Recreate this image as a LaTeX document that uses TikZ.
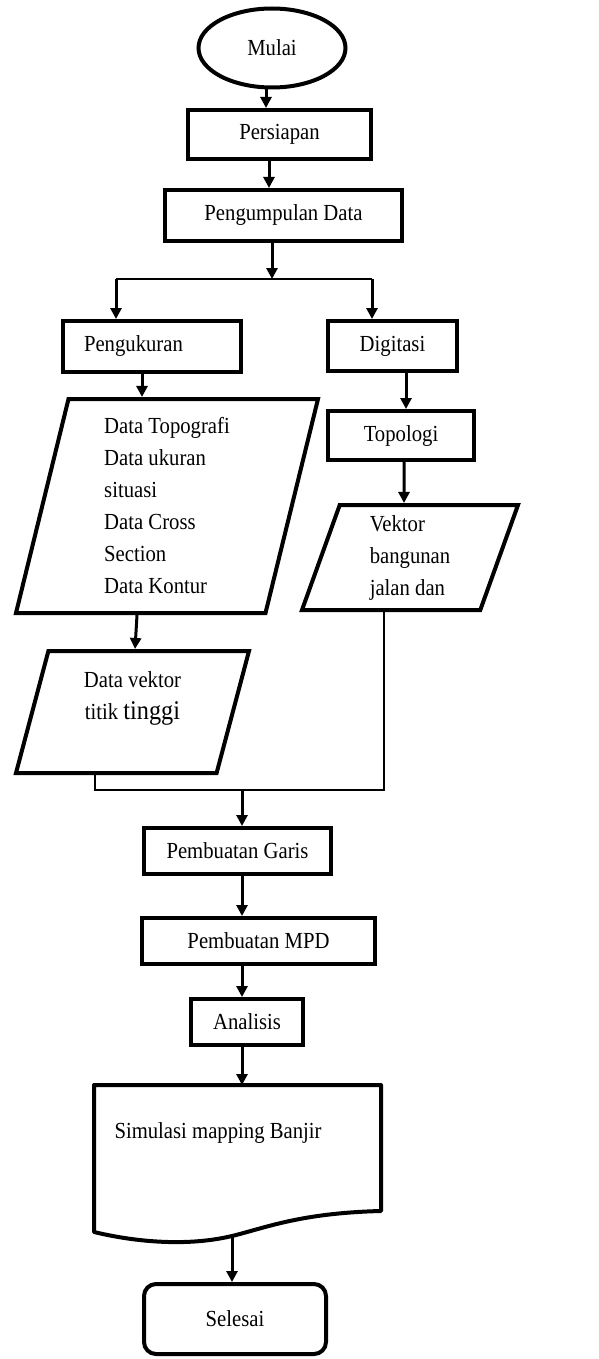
\documentclass[tikz,border=0pt]{standalone}
\usepackage{fontspec}
\setmainfont[FakeStretch=0.9]{Liberation Serif}
\usetikzlibrary{shapes.geometric,arrows.meta}
\tikzset{
	proc/.style={draw,rectangle,line width=4pt},
	para/.style={draw,trapezium,trapezium stretches body,line width=4pt,align=left},
	arr/.style={line width=3pt,-{Triangle[length=11pt,width=11pt]}},
	link/.style={line width=1.2pt}
}
\begin{document}
\begin{tikzpicture}[x=1pt,y=-1pt,font=\fontsize{23}{32}\selectfont]
	\useasboundingbox (0,0) rectangle (599,1359);

	\node [draw,ellipse,line width=4pt,minimum width=147,minimum height=79] (mulai) at (272,48) {Mulai};
	\node [proc,minimum width=183,minimum height=49] (persiapan) at (279.5,134.5) {Persiapan};
	\node [proc,minimum width=237,minimum height=51] (pengumpulan) at (283.5,215.5) {Pengumpulan Data};

	\coordinate (split) at (272,279);	\coordinate (splitL) at (116,279);	\coordinate (splitR) at (372,279);

	\node [proc,minimum width=178,minimum height=51,text width=136,align=left] (pengukuran) at (152,346.5) {Pengukuran};
	\node [proc,minimum width=129,minimum height=50] (digitasi) at (392.5,346) {Digitasi};
	\node [proc,minimum width=146,minimum height=49] (topologi) at (401,435.5) {Topologi};

	\node [para,trapezium left angle=74,trapezium right angle=106,minimum width=302,minimum height=214] (ukurdata) at (167,506)
		{Data Topografi\\Data ukuran\\situasi\\Data Cross\\Section\\Data Kontur};
	\node [para,trapezium left angle=67.6,trapezium right angle=112.4,minimum width=216,minimum height=105] (jalan) at (410,557.5)
		{Vektor\\bangunan\\jalan dan};
	\node [para,trapezium left angle=69.5,trapezium right angle=110.5,minimum width=233,minimum height=122,align=center] (vektordata) at (132.5,712)
		{Data vektor\\titik {\fontsize{27}{35}\selectfont tinggi}\\~};

	\coordinate (merge) at (242,790);

	\node [proc,minimum width=187,minimum height=46] (garis) at (237.5,851) {Pembuatan Garis};
	\node [proc,minimum width=233,minimum height=46] (mpd) at (258.5,941) {Pembuatan MPD};
	\node [proc,minimum width=112,minimum height=46] (analisis) at (247,1022) {Analisis};

	\draw [line width=4pt,line join=round] (94,1085) -- (381,1085) -- (381,1211) .. controls (300,1213) and (265,1228) .. (232,1236)
		.. controls (190,1246) and (140,1243) .. (94,1232) -- cycle;
	\coordinate (doctop) at (242,1085);	\coordinate (docbot) at (232,1236);
	\node (sim) at (218,1133) {Simulasi mapping Banjir};

	\node [draw,rectangle,rounded corners=12pt,line width=4pt,minimum width=182,minimum height=70] (selesai) at (235,1319) {Selesai};

	\draw [arr] ([xshift=-6pt]mulai.south) -- ([xshift=-13.5pt]persiapan.north);
	\draw [arr] ([xshift=-10.5pt]persiapan.south) -- ([xshift=-14.5pt]pengumpulan.north);
	\draw [arr] ([xshift=-11.5pt]pengumpulan.south) -- (split);
	\draw [link] (splitL) -- (splitR);
	\draw [arr] (splitL) -- ([xshift=-36pt]pengukuran.north);
	\draw [arr] (splitR) -- ([xshift=-20.5pt]digitasi.north);
	\draw [arr] ([xshift=-10pt]pengukuran.south) -- ([xshift=-25pt]ukurdata.north);
	\draw [arr] ([xshift=13.5pt]digitasi.south) -- ([xshift=5pt]topologi.north);
	\draw [arr] ([xshift=3pt]topologi.south) -- ([xshift=-6pt]jalan.north);
	\draw [arr] ([xshift=-30pt]ukurdata.south) -- ([xshift=2.5pt]vektordata.north);
	\draw [link] ([xshift=-37.5pt]vektordata.south) -- ++(0,15) -| ([xshift=-26pt]jalan.south);
	\draw [arr] (merge) -- ([xshift=4.5pt]garis.north);
	\draw [arr] ([xshift=4.5pt]garis.south) -- ([xshift=-16.5pt]mpd.north);
	\draw [arr] ([xshift=-16.5pt]mpd.south) -- ([xshift=-5pt]analisis.north);
	\draw [arr] ([xshift=-5pt]analisis.south) -- (doctop);
	\draw [arr] (docbot) -- ([xshift=-3pt]selesai.north);
\end{tikzpicture}
\end{document}
